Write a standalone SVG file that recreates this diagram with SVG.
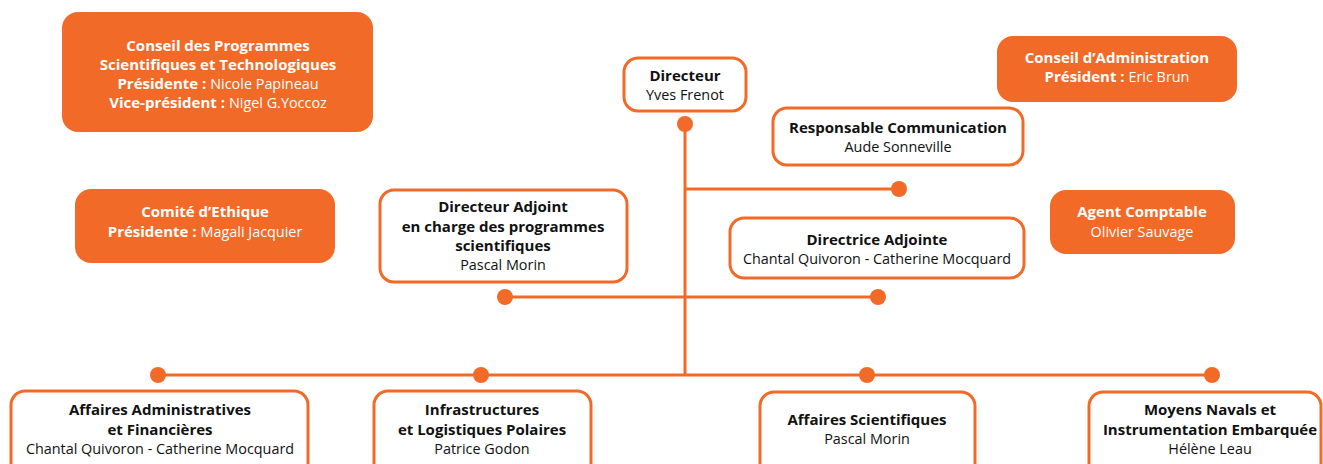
<svg xmlns="http://www.w3.org/2000/svg" width="1323" height="464" viewBox="0 0 1323 464">
<style>
.fill{fill:#F26A28;stroke:none}
.box{fill:#fff;stroke:#F26A28;stroke-width:3}
.ln{stroke:#F26A28;stroke-width:3;fill:none}
.dot{fill:#F26A28}
text{font-family:"Open Sans",Lato,"Liberation Sans",sans-serif;font-size:14.4px;text-anchor:middle}
.b{font-weight:bold;font-size:15px}
.w{fill:#fff}
.k{fill:#111}
</style>
<rect width="1323" height="464" fill="#fff"/>
<g id="connectors">
<line class="ln" x1="685" y1="124" x2="685" y2="375"/>
<line class="ln" x1="685" y1="189" x2="899" y2="189"/>
<line class="ln" x1="505" y1="297" x2="878" y2="297"/>
<line class="ln" x1="158" y1="375" x2="1212" y2="375"/>
<circle class="dot" cx="685" cy="124" r="8"/>
<circle class="dot" cx="899" cy="189" r="8"/>
<circle class="dot" cx="505" cy="297" r="8"/>
<circle class="dot" cx="878" cy="297" r="8"/>
<circle class="dot" cx="158" cy="375" r="8"/>
<circle class="dot" cx="481" cy="375" r="8"/>
<circle class="dot" cx="867" cy="375" r="8"/>
<circle class="dot" cx="1212" cy="375" r="8"/>
</g>
<g id="cpst">
<rect class="fill" x="62" y="12" width="311" height="120" rx="16"/>
<text class="w" x="218" y="51"><tspan class="b">Conseil des Programmes</tspan></text>
<text class="w" x="218" y="70"><tspan class="b">Scientifiques et Technologiques</tspan></text>
<text class="w" x="218" y="89"><tspan class="b">Présidente : </tspan>Nicole Papineau</text>
<text class="w" x="218" y="108"><tspan class="b">Vice-président : </tspan>Nigel G.Yoccoz</text>
</g>
<g id="directeur">
<rect class="box" x="624" y="58" width="122" height="53" rx="14"/>
<text class="k b" x="685" y="81">Directeur</text>
<text class="k" x="685" y="100">Yves Frenot</text>
</g>
<g id="ca">
<rect class="fill" x="997" y="36" width="240" height="66" rx="16"/>
<text class="w b" x="1117" y="63">Conseil d’Administration</text>
<text class="w" x="1117" y="82"><tspan class="b">Président : </tspan>Eric Brun</text>
</g>
<g id="communication">
<rect class="box" x="773" y="108" width="250" height="57" rx="14"/>
<text class="k b" x="898" y="133">Responsable Communication</text>
<text class="k" x="898" y="152">Aude Sonneville</text>
</g>
<g id="ethique">
<rect class="fill" x="75" y="189" width="260" height="74" rx="16"/>
<text class="w b" x="205" y="217">Comité d’Ethique</text>
<text class="w" x="205" y="237"><tspan class="b">Présidente : </tspan>Magali Jacquier</text>
</g>
<g id="adjoint">
<rect class="box" x="380" y="190" width="247" height="92" rx="14"/>
<text class="k b" x="503" y="212">Directeur Adjoint</text>
<text class="k b" x="503" y="232">en charge des programmes</text>
<text class="k b" x="503" y="251">scientifiques</text>
<text class="k" x="503" y="270">Pascal Morin</text>
</g>
<g id="adjointe">
<rect class="box" x="730" y="218" width="294" height="60" rx="14"/>
<text class="k b" x="877" y="245">Directrice Adjointe</text>
<text class="k" x="877" y="264">Chantal Quivoron - Catherine Mocquard</text>
</g>
<g id="agent">
<rect class="fill" x="1050" y="190" width="185" height="64" rx="16"/>
<text class="w b" x="1142" y="217">Agent Comptable</text>
<text class="w" x="1142" y="237">Olivier Sauvage</text>
</g>
<g id="aaf">
<rect class="box" x="11" y="391" width="297" height="90" rx="14"/>
<text class="k b" x="160" y="415">Affaires Administratives</text>
<text class="k b" x="160" y="435">et Financières</text>
<text class="k" x="160" y="454">Chantal Quivoron - Catherine Mocquard</text>
</g>
<g id="ilp">
<rect class="box" x="374" y="391" width="217" height="90" rx="14"/>
<text class="k b" x="482" y="415">Infrastructures</text>
<text class="k b" x="482" y="435">et Logistiques Polaires</text>
<text class="k" x="482" y="454">Patrice Godon</text>
</g>
<g id="as">
<rect class="box" x="760" y="392" width="215" height="90" rx="14"/>
<text class="k b" x="867" y="425">Affaires Scientifiques</text>
<text class="k" x="867" y="444">Pascal Morin</text>
</g>
<g id="mnie">
<rect class="box" x="1089" y="392" width="232" height="90" rx="14"/>
<text class="k b" x="1210" y="415">Moyens Navals et</text>
<text class="k b" x="1210" y="435">Instrumentation Embarquée</text>
<text class="k" x="1210" y="454">Hélène Leau</text>
</g>
</svg>
